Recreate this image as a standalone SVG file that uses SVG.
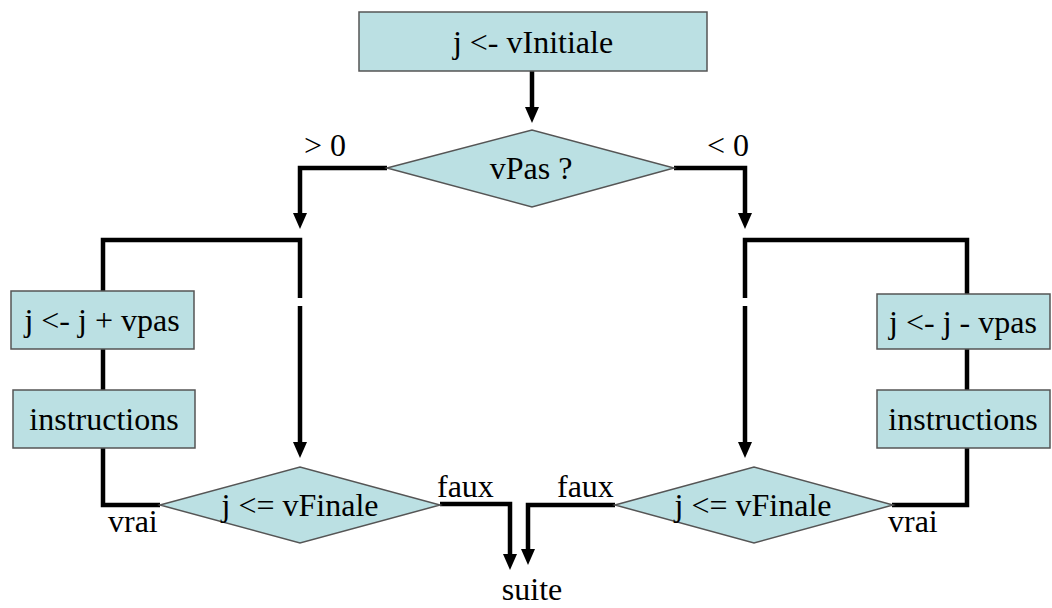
<svg xmlns="http://www.w3.org/2000/svg" width="1052" height="608" viewBox="0 0 1052 608">
<defs>
<style>
.box{fill:#BBE0E3;stroke:#555;stroke-width:1.5}
text{font-family:"Times New Roman",Times,"Liberation Serif","DejaVu Serif",serif;font-size:32px;fill:#000}
.t{text-anchor:middle}
.c{fill:none;stroke:#000;stroke-width:4.5;stroke-linejoin:miter}
</style>
</defs>
<rect width="1052" height="608" fill="#fff"/>
<g id="connectors">
<path class="c" d="M532,71 V108"/><path d="M525,107 L539,107 L532,123 Z"/>
<path class="c" d="M387,168 H300 V214"/><path d="M293,213 L307,213 L300,229 Z"/>
<path class="c" d="M674,168 H745 V214"/><path d="M738,213 L752,213 L745,229 Z"/>
<path class="c" d="M103,298 V240 H300 V298"/>
<path class="c" d="M300,306 V443"/><path d="M293,442 L307,442 L300,458 Z"/>
<path class="c" d="M103,349 V390"/>
<path class="c" d="M103,448 V505 H160"/>
<path class="c" d="M967,294 V240 H745 V298"/>
<path class="c" d="M745,306 V443"/><path d="M738,442 L752,442 L745,458 Z"/>
<path class="c" d="M967,349 V390"/>
<path class="c" d="M967,448 V505 H892"/>
<path class="c" d="M440,504 H510 V555"/><path d="M503,554 L517,554 L510,570 Z"/>
<path class="c" d="M615,505 H528 V550"/><path d="M521,549 L535,549 L528,565 Z"/>
</g>
<g id="init"><rect class="box" x="359" y="12" width="348" height="59"/><text class="t" x="533" y="53">j &lt;- vInitiale</text></g>
<g id="vpas"><polygon class="box" points="387,168 532,130 674,168 532,207"/><text class="t" x="531" y="179">vPas ?</text></g>
<g id="incr"><rect class="box" x="11" y="291" width="183" height="58"/><text class="t" x="102" y="331">j &lt;- j + vpas</text></g>
<g id="instrL"><rect class="box" x="13" y="390" width="182" height="58"/><text class="t" x="104" y="430">instructions</text></g>
<g id="testL"><polygon class="box" points="160,505 300,467 440,505 300,543"/><text class="t" x="300" y="516">j &lt;= vFinale</text></g>
<g id="decr"><rect class="box" x="877" y="294" width="173" height="55"/><text class="t" x="963" y="333">j &lt;- j - vpas</text></g>
<g id="instrR"><rect class="box" x="877" y="390" width="173" height="58"/><text class="t" x="963" y="430">instructions</text></g>
<g id="testR"><polygon class="box" points="615,505 754,467 893,505 754,543"/><text class="t" x="753" y="516">j &lt;= vFinale</text></g>
<g id="labels">
<text x="304" y="156">&gt; 0</text>
<text x="707" y="156">&lt; 0</text>
<text x="108" y="532">vrai</text>
<text x="888" y="532">vrai</text>
<text x="437" y="497">faux</text>
<text x="557" y="497">faux</text>
<text class="t" x="532" y="600">suite</text>
</g>
</svg>
